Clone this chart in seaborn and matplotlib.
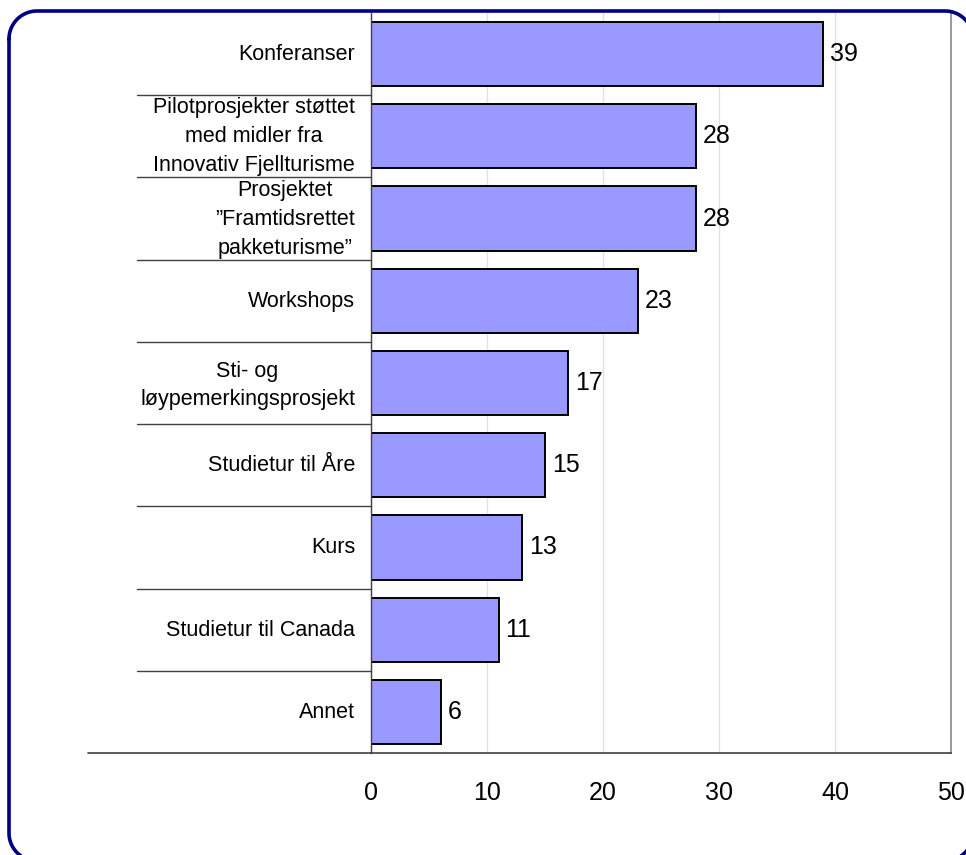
import matplotlib
matplotlib.use("Agg")
import matplotlib.pyplot as plt
import seaborn as sns
import pandas as pd
import numpy as np
from matplotlib.lines import Line2D
from matplotlib.transforms import blended_transform_factory, ScaledTranslation

categories = [
    "Konferanser",
    "Pilotprosjekter støttet\nmed midler fra\nInnovativ Fjellturisme",
    "Prosjektet\n”Framtidsrettet\npakketurisme”",
    "Workshops",
    "Sti- og\nløypemerkingsprosjekt",
    "Studietur til Åre",
    "Kurs",
    "Studietur til Canada",
    "Annet",
]
values = [39, 28, 28, 23, 17, 15, 13, 11, 6]
xticks = [0, 10, 20, 30, 40, 50]

sns.set_style("white")
plt.rcParams["font.family"] = ["Liberation Sans", "DejaVu Sans"]
plt.rcParams["text.color"] = "black"
plt.rcParams["xtick.color"] = "black"
plt.rcParams["ytick.color"] = "black"

W, H = 966, 855
fig = plt.figure(figsize=(W / 100, H / 100), dpi=100)
ax = fig.add_axes([371 / W, 1 - 753 / H, (951 - 371) / W, (753 - 13) / H])

df = pd.DataFrame({"cat": categories, "val": values})
sns.barplot(data=df, y="cat", x="val", orient="h", color="#9999FF",
            saturation=1, edgecolor="black", linewidth=1.4, width=0.78, ax=ax)

ax.set_xlim(0, 50)
ax.set_ylim(len(categories) - 0.5, -0.5)
ax.set_xticks(xticks)
ax.set_xticklabels([str(t) for t in xticks], fontsize=18)
ax.set_xlabel("")
ax.set_ylabel("")
ax.tick_params(axis="x", direction="out", length=6, width=1, color="#404040",
               labelcolor="black", pad=14)
ax.tick_params(axis="y", length=0, pad=11.5, labelsize=15.5, labelcolor="black")
for lab in ax.get_yticklabels():
    lab.set_multialignment("center")
    lab.set_linespacing(1.5)
    n = lab.get_text().count("\n") + 1
    dy = (2 + 2 * (n - 1)) / 72.0 * 0.72
    lab.set_transform(lab.get_transform() + ScaledTranslation(0, dy, fig.dpi_scale_trans))

ax.grid(axis="x", color="#DDDDF6", linewidth=1)
ax.set_axisbelow(True)
ax.spines["top"].set_visible(False)
ax.spines["right"].set_color("#909090")
ax.spines["right"].set_linewidth(1.3)
ax.spines["left"].set_color("#404040")
ax.spines["left"].set_linewidth(1)
ax.spines["bottom"].set_color("#404040")
ax.spines["bottom"].set_linewidth(1.2)

for c in ax.containers:
    ax.bar_label(c, labels=[str(v) for v in values], padding=5, fontsize=18,
                 color="black")

# category separators
tr = blended_transform_factory(fig.transFigure, ax.transData)
for i in range(len(categories) - 1):
    y = i + 0.5
    ax.add_line(Line2D([137 / W, 371 / W], [y, y], transform=tr, color="#404040",
                       linewidth=1, clip_on=False))
yb = len(categories) - 0.5
ax.add_line(Line2D([88 / W, 371 / W], [yb, yb], transform=tr, color="#404040",
                   linewidth=1.2, clip_on=False))

# rounded frame (pixel coords, top-left origin), built as a polyline
x0, y0, x1, y1, r = 9, 11, 973, 861, 28
pts = []
def arc(cx, cy, a0, a1):
    t = np.linspace(np.radians(a0), np.radians(a1), 30)
    return list(zip(cx + r * np.cos(t), cy + r * np.sin(t)))
pts += arc(x0 + r, y0 + r, 180, 270)
pts += arc(x1 - r, y0 + r, 270, 360)
pts += arc(x1 - r, y1 - r, 0, 90)
pts += arc(x0 + r, y1 - r, 90, 180)
pts.append(pts[0])
px = np.array([p[0] for p in pts]) / W
py = 1 - np.array([p[1] for p in pts]) / H
frame = Line2D(px, py, transform=fig.transFigure, color="#000080",
               linewidth=2.6, solid_joinstyle="round")
fig.lines.append(frame)

fig.savefig("out.png", dpi=100)
